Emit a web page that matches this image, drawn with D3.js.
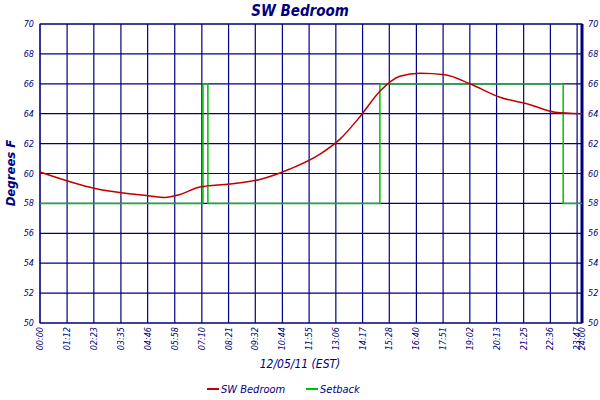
<!DOCTYPE html>
<html><head><meta charset="utf-8">
<script src="https://cdn.jsdelivr.net/npm/d3@7"></script>
<style>body{margin:0;background:#fff}text{font-family:"DejaVu Sans Condensed","DejaVu Sans",sans-serif;font-style:italic;fill:#000080}</style>
</head><body><svg id="c" width="600" height="400" viewBox="0 0 600 400"></svg>
<script>
// minutes since midnight
const tickLabels = ["00:00","01:12","02:23","03:35","04:46","05:58","07:10","08:21","09:32","10:44","11:55","13:06","14:17","15:28","16:40","17:51","19:02","20:13","21:25","22:36","23:47","24:00"];
const tickMinutes = tickLabels.map(s => +s.slice(0, 2) * 60 + +s.slice(3));
const tempMinutes = [0, 146, 292, 332, 372, 425, 505, 584, 664, 744, 797, 850, 903, 956, 1010, 1076, 1142, 1222, 1302, 1368, 1440];
const tempValues = [60.1, 59.0, 58.5, 58.4, 58.6, 59.1, 59.3, 59.6, 60.3, 61.3, 62.3, 63.8, 65.5, 66.5, 66.7, 66.6, 66.0, 65.1, 64.6, 64.1, 64.0];
const setMinutes = [0, 433, 433, 446, 446, 903, 903, 1390, 1390, 1440];
const setValues = [58, 58, 66, 66, 58, 58, 66, 66, 58, 58];
const yTicks = d3.range(50, 71, 2);

const svg = d3.select("#c");
const L = 40, R = 582, T = 24, B = 323;
const x = d3.scaleLinear().domain([0, 1440]).range([L, R]);
const y = d3.scaleLinear().domain([50, 70]).range([B, T]);

svg.append("rect").attr("x", L).attr("y", T).attr("width", R - L).attr("height", B - T)
  .attr("fill", "#fff").attr("stroke", "#000080");

const grid = svg.append("g").attr("stroke", "#000080").attr("stroke-width", 1.2);
grid.selectAll(".h").data(yTicks).enter().append("line")
  .attr("x1", L).attr("x2", R).attr("y1", d => y(d)).attr("y2", d => y(d));
grid.selectAll(".v").data(tickMinutes).enter().append("line")
  .attr("x1", d => x(d)).attr("x2", d => x(d)).attr("y1", T).attr("y2", B);

svg.append("line").attr("x1", R).attr("x2", R).attr("y1", T).attr("y2", B)
  .attr("stroke", "#000080").attr("stroke-width", 3);

svg.selectAll(".yl").data(yTicks).enter().append("text")
  .attr("x", L - 6).attr("y", d => y(d) + 3).attr("text-anchor", "end")
  .attr("font-size", 9).text(d => d);
svg.selectAll(".yr").data(yTicks).enter().append("text")
  .attr("x", R + 6).attr("y", d => y(d) + 3)
  .attr("font-size", 9).text(d => d);
svg.selectAll(".xl").data(tickMinutes).enter().append("text")
  .attr("transform", d => `translate(${x(d) + 3},${B + 4}) rotate(-90)`)
  .attr("text-anchor", "end").attr("font-size", 9).text((d, i) => tickLabels[i]);

// setback
svg.append("path").datum(d3.zip(setMinutes, setValues))
  .attr("fill", "none").attr("stroke", "#00c000").attr("stroke-width", 1.5)
  .attr("d", d3.line().x(d => x(d[0])).y(d => y(d[1])));
// temperature
svg.append("path").datum(d3.zip(tempMinutes, tempValues))
  .attr("fill", "none").attr("stroke", "#c00000").attr("stroke-width", 1.5)
  .attr("d", d3.line().curve(d3.curveMonotoneX).x(d => x(d[0])).y(d => y(d[1])));

svg.append("text").attr("x", 300).attr("y", 16).attr("text-anchor", "middle")
  .attr("font-size", 15).attr("font-weight", "bold").text("SW Bedroom");
svg.append("text").attr("transform", "translate(15,173) rotate(-90)").attr("text-anchor", "middle")
  .attr("font-size", 13).attr("font-weight", "bold").attr("font-family", "DejaVu Serif").text("Degrees F");
svg.append("text").attr("x", 300).attr("y", 368).attr("text-anchor", "middle")
  .attr("font-size", 12).text("12/05/11 (EST)");

const legend = [["SW Bedroom", "#c00000", 207], ["Setback", "#00c000", 306]];
legend.forEach(([name, col, lx]) => {
  svg.append("line").attr("x1", lx).attr("x2", lx + 12).attr("y1", 389).attr("y2", 389)
    .attr("stroke", col).attr("stroke-width", 2);
  svg.append("text").attr("x", lx + 14).attr("y", 393).attr("font-size", 11).text(name);
});
</script></body></html>
